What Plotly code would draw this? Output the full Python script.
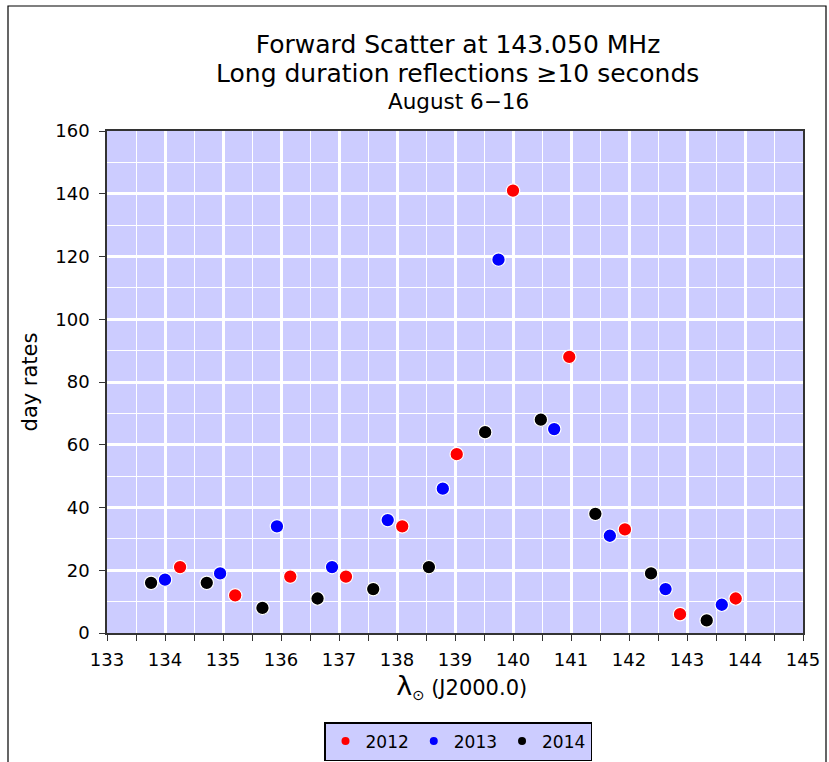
import plotly.graph_objects as go

# Solar longitude (deg, J2000.0) and day rates per year
x_2012 = [134.26, 135.21, 136.16, 137.12, 138.09, 139.03, 140.00, 140.97, 141.93, 142.88, 143.84]
y_2012 = [21, 12, 18, 18, 34, 57, 141, 88, 33, 6, 11]

x_2013 = [134.00, 134.95, 135.93, 136.88, 137.84, 138.79, 139.75, 140.71, 141.67, 142.63, 143.60]
y_2013 = [17, 19, 34, 21, 36, 46, 119, 65, 31, 14, 9]

x_2014 = [133.76, 134.72, 135.68, 136.63, 137.59, 138.55, 139.52, 140.48, 141.42, 142.38, 143.34]
y_2014 = [16, 16, 8, 11, 14, 21, 64, 68, 38, 19, 4]

series = [("2012", x_2012, y_2012, "#ff0000"),
          ("2013", x_2013, y_2013, "#0000ff"),
          ("2014", x_2014, y_2014, "#000000")]

x_ticks = list(range(133, 146))
y_ticks = list(range(0, 161, 20))

title_lines = ["Forward Scatter at 143.050 MHz",
               "Long duration reflections \u226510 seconds",
               "August 6\u221216"]

FONT = "DejaVu Sans, Verdana, sans-serif"
H = 762
PLOT_TOP, PLOT_BOTTOM, PLOT_LEFT, PLOT_W = 131, 633, 107, 696
PH = PLOT_BOTTOM - PLOT_TOP


def py(pix):  # pixel row -> paper y
    return (PLOT_BOTTOM - pix) / PH


def px(pix):  # pixel column -> paper x
    return (pix - PLOT_LEFT) / PLOT_W


fig = go.Figure()
for name, xs, ys, col in series:
    fig.add_trace(go.Scatter(
        x=xs, y=ys, mode="markers", name=name, showlegend=False,
        marker=dict(size=13.5, color=col, line=dict(color="white", width=1.2)),
        cliponaxis=False))
for name, xs, ys, col in series:
    fig.add_trace(go.Scatter(
        x=[None], y=[None], mode="markers", name=name, showlegend=True,
        marker=dict(size=8, color=col)))

fig.update_layout(
    width=829, height=H,
    margin=dict(l=107, r=26, t=131, b=129, autoexpand=False),
    paper_bgcolor="white",
    plot_bgcolor="#ccccff",
    font=dict(family=FONT, size=18, color="black"),
    title=dict(
        text=title_lines[0],
        x=px(458), xref="paper", xanchor="center",
        y=1 - 44 / H, yref="container", yanchor="middle",
        font=dict(family=FONT, size=25, color="black")),
    legend=dict(
        orientation="h", x=px(458), xanchor="center", y=py(722), yanchor="top",
        bgcolor="#ccccff", bordercolor="black", borderwidth=1.5,
        font=dict(family=FONT, size=17, color="black"),
        itemwidth=30, tracegroupgap=0),
    showlegend=True,
)

fig.add_annotation(text=title_lines[1], xref="paper", yref="paper",
                   x=px(457), y=py(73), xanchor="center", yanchor="middle",
                   showarrow=False, font=dict(family=FONT, size=25, color="black"))
fig.add_annotation(text=title_lines[2], xref="paper", yref="paper",
                   x=px(458.5), y=py(101), xanchor="center", yanchor="middle",
                   showarrow=False, font=dict(family=FONT, size=21.5, color="black"))

fig.update_xaxes(
    range=[133, 145], tickvals=x_ticks, ticktext=[str(v) for v in x_ticks],
    showgrid=True, gridcolor="white", gridwidth=2.5,
    minor=dict(dtick=0.5, showgrid=True, gridcolor="white", gridwidth=1.3,
               ticks="outside", ticklen=6, tickcolor="#333"),
    ticks="outside", ticklen=6, tickcolor="#333",
    ticklabelstandoff=4,
    showline=True, linecolor="#333", linewidth=1.5, mirror=True,
    zeroline=False, automargin=False,
    tickfont=dict(family=FONT, size=18),
    title=dict(text="&nbsp;&nbsp;<span style='font-size:27px'>\u03bb</span>"
                    "<sub>\u2299</sub> (J2000.0)",
               font=dict(family=FONT, size=21), standoff=5),
)
fig.update_yaxes(
    range=[0, 160], tickvals=y_ticks, ticktext=[str(v) for v in y_ticks],
    showgrid=True, gridcolor="white", gridwidth=2.5,
    minor=dict(dtick=10, showgrid=True, gridcolor="white", gridwidth=1.3),
    ticks="outside", ticklen=6, tickcolor="#333",
    ticklabelstandoff=6,
    showline=True, linecolor="#333", linewidth=1.5, mirror=True,
    zeroline=False, automargin=False,
    tickfont=dict(family=FONT, size=18),
    title=dict(text="day rates", font=dict(family=FONT, size=21), standoff=12),
)

# outer frame of the whole chart
fig.add_shape(type="rect", xref="paper", yref="paper",
              x0=px(8), x1=px(826), y0=py(775), y1=py(6),
              line=dict(color="black", width=1.2), fillcolor="rgba(0,0,0,0)",
              layer="below")

fig.write_html("out.html")
